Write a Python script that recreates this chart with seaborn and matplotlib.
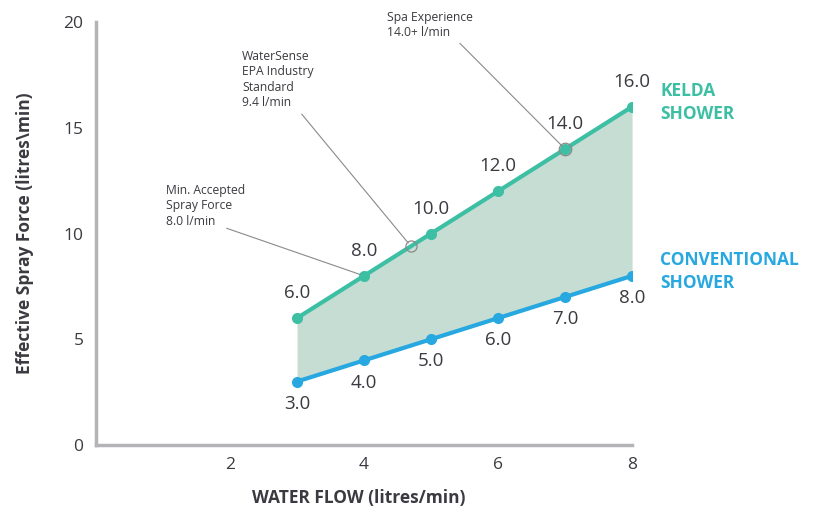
import matplotlib
matplotlib.use("Agg")
import matplotlib.pyplot as plt
import seaborn as sns
import pandas as pd

# data
flow = [3, 4, 5, 6, 7, 8]
kelda = [6.0, 8.0, 10.0, 12.0, 14.0, 16.0]
conventional = [3.0, 4.0, 5.0, 6.0, 7.0, 8.0]
x_ticks = [2, 4, 6, 8]
y_ticks = [0, 5, 10, 15, 20]

TEAL = "#3cbfa3"
BLUE = "#27a8e0"
FILL = "#c6ddd3"
GREY = "#b3b3b8"
TEXT = "#3a3a40"

sns.set_style("white")
plt.rcParams["font.family"] = ["Open Sans", "DejaVu Sans"]

df = pd.DataFrame({"flow": flow, "kelda": kelda, "conventional": conventional})

fig = plt.figure(figsize=(8.16, 5.15), dpi=100)
ax = fig.add_axes([0.1176, 0.136, 0.657, 0.821])

ax.fill_between(df["flow"], df["conventional"], df["kelda"], color=FILL, lw=0, zorder=1)
sns.lineplot(data=df, x="flow", y="kelda", color=TEAL, lw=3, marker="o",
             markersize=8, markeredgewidth=0, ax=ax, zorder=3)
sns.lineplot(data=df, x="flow", y="conventional", color=BLUE, lw=3, marker="o",
             markersize=8, markeredgewidth=0, ax=ax, zorder=3)

for x, y in zip(flow, kelda):
    ax.annotate(f"{y:.1f}", (x, y), xytext=(0, 18), textcoords="offset points",
                ha="center", va="center", fontsize=13.5, color=TEXT)
for x, y in zip(flow, conventional):
    ax.annotate(f"{y:.1f}", (x, y), xytext=(0, -16), textcoords="offset points",
                ha="center", va="center", fontsize=13.5, color=TEXT)

# reference callouts
note_kw = dict(fontsize=8.7, color=TEXT, va="top", ha="left", linespacing=1.25,
               clip_on=False)
line_kw = dict(arrowstyle="-", color="#8a8a8a", lw=0.8, shrinkA=0, shrinkB=3)
ax.annotate("", xy=(4, 8.0), xytext=(1.95, 10.25), arrowprops=line_kw)
ax.text(1.05, 12.35, "Min. Accepted\nSpray Force\n8.0 l/min", **note_kw)

ax.plot([4.7], [9.4], marker="o", ms=8, mfc="none", mec="#8a8a8a", mew=0.9, zorder=4)
ax.annotate("", xy=(4.7, 9.4), xytext=(3.07, 15.65), arrowprops=line_kw)
ax.text(2.18, 18.7, "WaterSense\nEPA Industry\nStandard\n9.4 l/min", **note_kw)

ax.plot([7], [14], marker="o", ms=9, mfc="none", mec="#8a8a8a", mew=0.9, zorder=4)
ax.annotate("", xy=(7, 14), xytext=(5.43, 19.0), arrowprops=line_kw)
ax.text(4.34, 20.55, "Spa Experience\n14.0+ l/min", **note_kw)

# series names at the right
ax.text(8.42, 16.2, "KELDA\nSHOWER", color=TEAL, fontsize=12.5, fontweight="bold",
        va="center", ha="left", linespacing=1.4, clip_on=False)
ax.text(8.42, 8.2, "CONVENTIONAL\nSHOWER", color=BLUE, fontsize=12.5, fontweight="bold",
        va="center", ha="left", linespacing=1.4, clip_on=False)

ax.set_xlim(0, 8)
ax.set_ylim(0, 20)
ax.set_xticks(x_ticks)
ax.set_yticks(y_ticks)
ax.tick_params(direction="in", length=9, width=2, color=GREY, labelsize=12.5,
               labelcolor=TEXT, pad=9)
for side in ["top", "right"]:
    ax.spines[side].set_visible(False)
for side in ["left", "bottom"]:
    ax.spines[side].set_color(GREY)
    ax.spines[side].set_linewidth(2.5)

ax.set_xlabel("WATER FLOW (litres/min)", fontsize=12.5, fontweight="bold", color=TEXT)
ax.set_ylabel("Effective Spray Force (litres\\min)", fontsize=12.5, fontweight="bold",
              color=TEXT)
ax.xaxis.set_label_coords(0.49, -0.105)
ax.yaxis.set_label_coords(-0.115, 0.5)

fig.savefig("out.png", dpi=100)
